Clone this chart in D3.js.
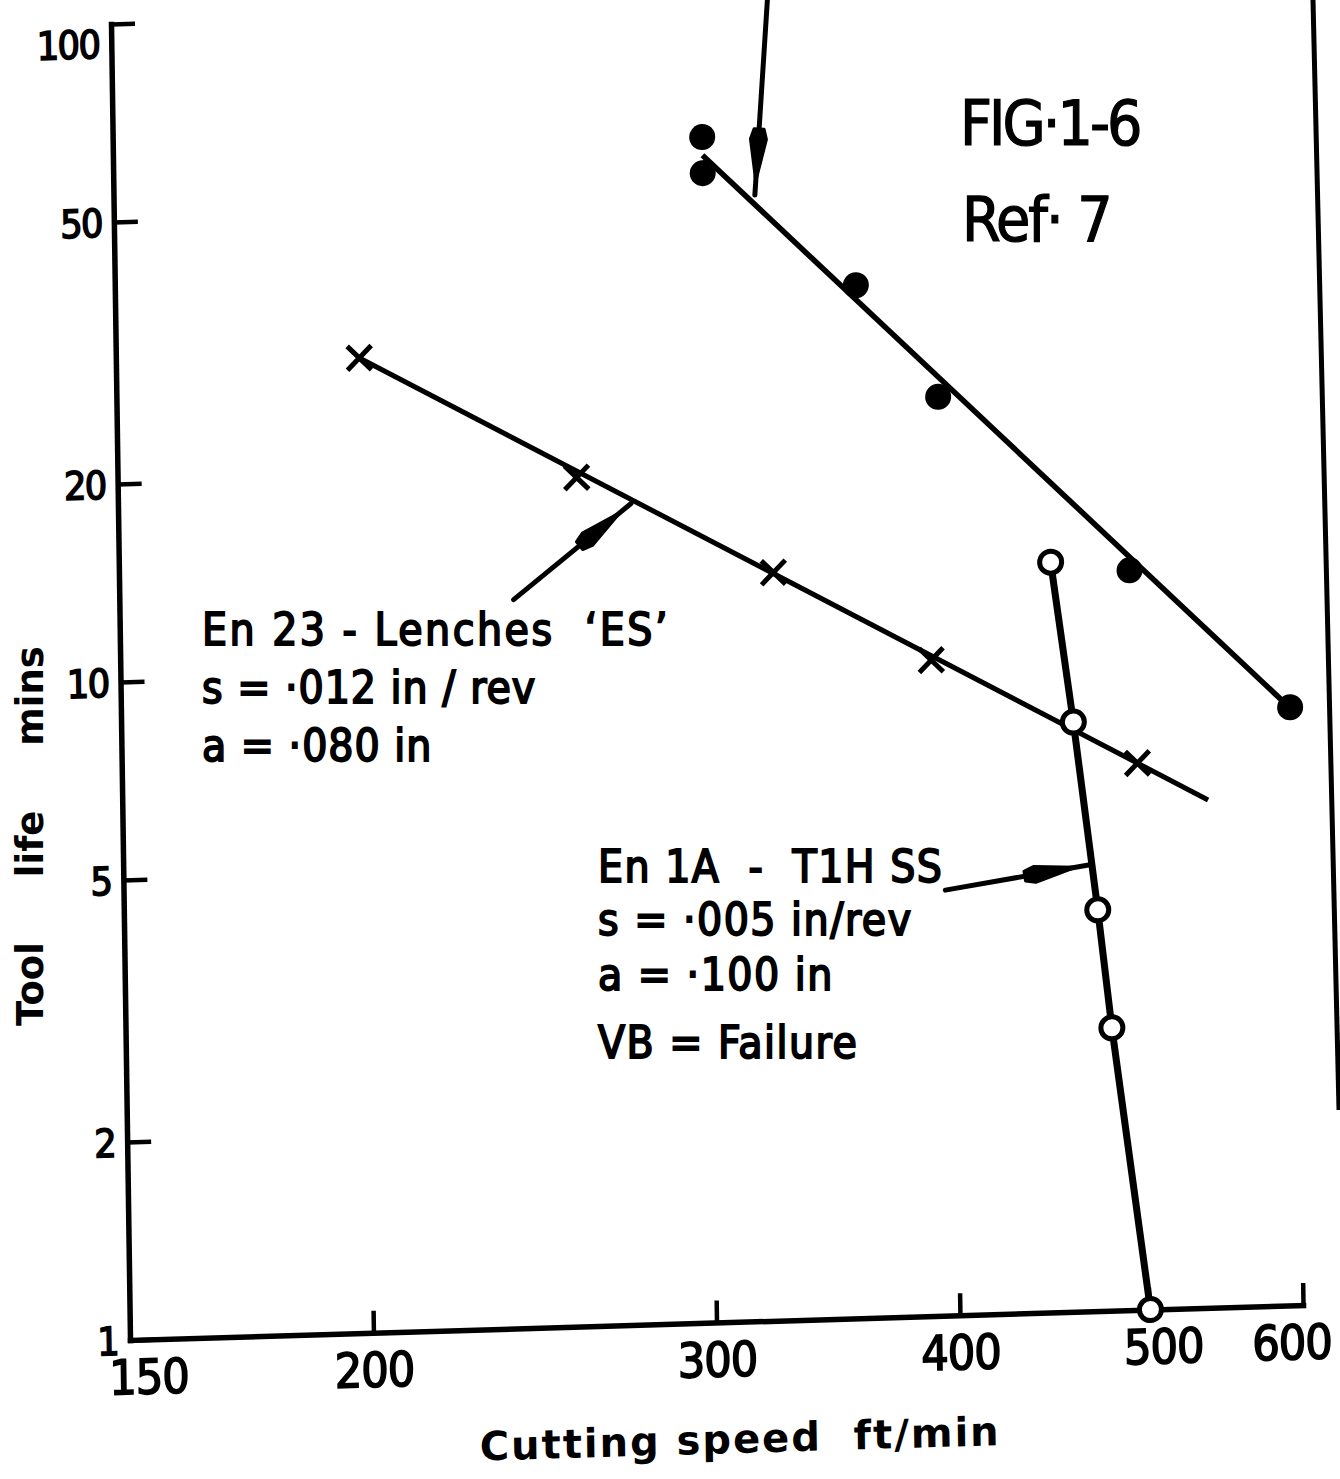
<!DOCTYPE html>
<html>
  <head>
    <meta charset="utf-8">
    <title>FIG 1-6 tool life</title>
    <script src="https://cdnjs.cloudflare.com/ajax/libs/d3/7.8.5/d3.min.js"></script>
    <style>
      body { margin: 0; background: #fff; }
      text { white-space: pre; }
    </style>
  </head>
  <body>
    <svg width="1340" height="1479"></svg>
    <script>
    // axis ticks
    var xTicks = [150, 200, 300, 400, 500, 600];
    var yTicks = [1, 2, 5, 10, 20, 50, 100];

    // filled circles
    var speedES = [301, 301, 360, 396, 495, 597];
    var lifeES  = [63.3, 55.8, 37.1, 24.9, 13.3, 8.1];
    var fitSpeedES = [301, 597];
    var fitLifeES  = [59.4, 8.08];

    // crosses: En 23 - Lenches 'ES'
    var speedX = [200, 258, 325, 391, 498];
    var lifeX  = [30.3, 19.5, 13.7, 9.92, 6.77];
    var fitSpeedX = [200, 541];
    var fitLifeX  = [30.3, 5.91];

    // open circles: En 1A - T1H SS
    var speedT1 = [451, 462, 474, 481, 501];
    var lifeT1  = [13.8, 7.87, 4.07, 2.69, 1.0];

    // leader arrows, in data units: [speed0, life0, speed1, life1]
    var leaders = [
      [239, 12.8, 275, 17.7],
      [396, 4.43, 470, 4.77],
      [326, 103.3, 320, 51.4]
    ];

    var W = 1173, H = 1316;
    var narrow = "'Liberation Sans Narrow', 'DejaVu Sans Condensed', sans-serif";

    var svg = d3.select("svg");
    // the scanned figure is slightly sheared
    var g = svg.append("g")
      .attr("transform", "matrix(1,-0.02984,0.01444,1,111,24)");

    var x = d3.scaleLog().domain([150, 600]).range([0, W]);
    var y = d3.scaleLog().domain([1, 100]).range([H, 0]);

    // y axis
    var yAxis = g.append("g")
      .call(d3.axisLeft(y).tickValues(yTicks).tickFormat(d3.format("d"))
        .tickSizeInner(-24).tickSizeOuter(0).tickPadding(12));
    // x axis
    var xAxis = g.append("g")
      .attr("transform", "translate(0," + H + ")")
      .call(d3.axisBottom(x).tickValues(xTicks).tickFormat(d3.format("d"))
        .tickSizeInner(-22).tickSizeOuter(0).tickPadding(20));

    [yAxis, xAxis].forEach(function(a){
      a.select(".domain").attr("stroke", "#000").attr("stroke-width", 5.5)
        .attr("stroke-linecap", "square");
      a.selectAll(".tick line").attr("stroke", "#000").attr("stroke-width", 4.5);
      a.selectAll("text").attr("fill", "#000").attr("font-family", narrow)
        .attr("stroke", "#000").attr("stroke-width", 1.6);
    });
    yAxis.selectAll("text").attr("font-size", 39).attr("letter-spacing", -1.5)
      .attr("dy", function(d){ return d == 100 ? "0.85em" : "0.36em"; });
    xAxis.selectAll("text").attr("font-size", 48).attr("letter-spacing", -1)
      .attr("dx", function(d){ return d == 150 ? 18 : (d == 500 ? 14 : (d == 600 ? -12 : 0)); });

    // axis titles
    g.append("text")
      .attr("x", W / 2 + 22).attr("y", H + 131)
      .attr("text-anchor", "middle")
      .attr("font-family", "'DejaVu Sans', sans-serif").attr("font-weight", "bold")
      .attr("font-size", 40).attr("letter-spacing", 2)
      .text("Cutting speed  ft/min");

    svg.append("text")
      .attr("transform", "translate(43,836) rotate(-90)")
      .attr("text-anchor", "middle")
      .attr("font-family", "'DejaVu Sans', sans-serif").attr("font-weight", "bold")
      .attr("font-size", 37).attr("word-spacing", 52)
      .text("Tool life mins");

    // fitted lines
    var line = d3.line().x(function(d){ return x(d[0]); }).y(function(d){ return y(d[1]); });
    g.append("path").datum(d3.zip(fitSpeedES, fitLifeES)).attr("d", line)
      .attr("fill", "none").attr("stroke", "#000").attr("stroke-width", 5.5);
    g.append("path").datum(d3.zip(fitSpeedX, fitLifeX)).attr("d", line)
      .attr("fill", "none").attr("stroke", "#000").attr("stroke-width", 5);
    g.append("path").datum(d3.zip(speedT1, lifeT1)).attr("d", line)
      .attr("fill", "none").attr("stroke", "#000").attr("stroke-width", 7);

    // leaders with teardrop arrows
    leaders.forEach(function(l){
      var x0 = x(l[0]), y0 = y(l[1]), x1 = x(l[2]), y1 = y(l[3]);
      g.append("line").attr("x1", x0).attr("y1", y0).attr("x2", x1).attr("y2", y1)
        .attr("stroke", "#000").attr("stroke-width", 5).attr("stroke-linecap", "round");
      var dx = x1 - x0, dy = y1 - y0, len = Math.sqrt(dx*dx + dy*dy);
      var ux = dx / len, uy = dy / len, nx = -uy, ny = ux;
      var tb = len - 66, tw = len - 56, tt = len - 14;
      var pts = [
        [x0 + ux*tb + nx*5, y0 + uy*tb + ny*5],
        [x0 + ux*tw + nx*8, y0 + uy*tw + ny*8],
        [x0 + ux*tt, y0 + uy*tt],
        [x0 + ux*tw - nx*8, y0 + uy*tw - ny*8],
        [x0 + ux*tb - nx*5, y0 + uy*tb - ny*5]
      ];
      g.append("path").attr("d", "M" + pts.join("L") + "Z")
        .attr("fill", "#000").attr("stroke", "#000").attr("stroke-width", 3)
        .attr("stroke-linejoin", "round");
    });

    // markers
    g.append("g").selectAll("circle").data(d3.zip(speedES, lifeES)).enter()
      .append("circle")
      .attr("cx", function(d){ return x(d[0]); })
      .attr("cy", function(d){ return y(d[1]); })
      .attr("r", 13).attr("fill", "#000");

    g.append("g").selectAll("path").data(d3.zip(speedX, lifeX)).enter()
      .append("path")
      .attr("transform", function(d){ return "translate(" + x(d[0]) + "," + y(d[1]) + ")"; })
      .attr("d", "M-12,-12L12,12M-12,12L12,-12")
      .attr("stroke", "#000").attr("stroke-width", 5).attr("fill", "none");

    g.append("g").selectAll("circle").data(d3.zip(speedT1, lifeT1)).enter()
      .append("circle")
      .attr("cx", function(d){ return x(d[0]); })
      .attr("cy", function(d){ return y(d[1]); })
      .attr("r", 11).attr("fill", "#fff").attr("stroke", "#000").attr("stroke-width", 5);

    // right edge of the sheet
    svg.append("line").attr("x1", 1313).attr("y1", 0).attr("x2", 1339).attr("y2", 1110)
      .attr("stroke", "#000").attr("stroke-width", 5);

    // figure caption
    svg.append("text").attr("x", 960).attr("y", 145)
      .attr("font-family", narrow).attr("font-size", 62).attr("letter-spacing", -3)
      .attr("stroke", "#000").attr("stroke-width", 1.2).text("FIG·1-6");
    svg.append("text").attr("x", 962).attr("y", 241)
      .attr("font-family", narrow).attr("font-size", 62).attr("letter-spacing", -2)
      .attr("stroke", "#000").attr("stroke-width", 1.2).text("Ref· 7");

    // notes
    var noteES = ["En 23 - Lenches  ‘ES’", "s = ·012 in / rev", "a = ·080 in"];
    var noteT1 = ["En 1A  -  T1H SS", "s = ·005 in/rev", "a = ·100 in", "VB = Failure"];

    svg.append("g").selectAll("text").data(noteES).enter().append("text")
      .attr("x", 202).attr("y", function(d, i){ return 645 + i * 58; })
      .attr("font-family", narrow).attr("font-size", 44)
      .attr("letter-spacing", function(d, i){ return i == 0 ? 2.5 : 1; })
      .attr("stroke", "#000").attr("stroke-width", 1.8)
      .text(function(d){ return d; });

    svg.append("g").selectAll("text").data(noteT1).enter().append("text")
      .attr("x", 598).attr("y", function(d, i){ return [882, 935, 990, 1058][i]; })
      .attr("font-family", narrow).attr("font-size", 44).attr("letter-spacing", 1.5)
      .attr("stroke", "#000").attr("stroke-width", 1.8)
      .text(function(d){ return d; });
    </script>
  </body>
</html>
